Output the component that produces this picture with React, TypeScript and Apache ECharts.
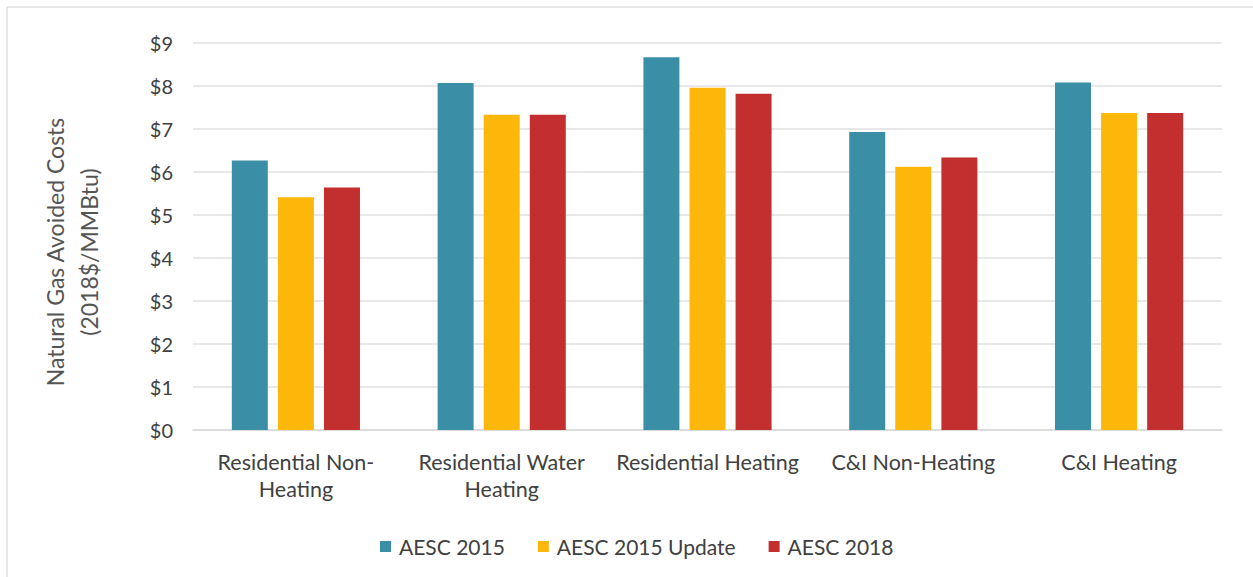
import React, { useEffect, useRef } from "react";
import * as echarts from "echarts";

const categories = [
  "Residential Non-\nHeating",
  "Residential Water\nHeating",
  "Residential Heating",
  "C&I Non-Heating",
  "C&I Heating",
];
const seriesNames = ["AESC 2015", "AESC 2015 Update", "AESC 2018"];
const aesc2015 = [6.27, 8.07, 8.67, 6.93, 8.08];
const aesc2015Update = [5.41, 7.33, 7.96, 6.12, 7.37];
const aesc2018 = [5.64, 7.33, 7.82, 6.34, 7.37];
const colors = ["#3A8FA6", "#FDB60A", "#C32E2F"];
const yTicks = [0, 1, 2, 3, 4, 5, 6, 7, 8, 9];

const FONT = "Lato, 'Open Sans', sans-serif";
const TEXT = "#404040";

export default function App() {
  const ref = useRef<HTMLDivElement>(null);
  useEffect(() => {
    if (!ref.current) return;
    const chart = echarts.init(ref.current, undefined, { renderer: "svg" });
    const data = [aesc2015, aesc2015Update, aesc2018];
    chart.setOption({
      animation: false,
      backgroundColor: "#ffffff",
      textStyle: { fontFamily: FONT, color: TEXT },
      graphic: [
        {
          type: "rect",
          shape: { x: 7, y: 7, width: 1300, height: 620 },
          style: { fill: "none", stroke: "#d0d0d0", lineWidth: 1 },
          silent: true,
        },
        {
          type: "text",
          x: 72,
          y: 252,
          rotation: Math.PI / 2,
          style: {
            text: "Natural Gas Avoided Costs\n(2018$/MMBtu)",
            fontFamily: FONT,
            fontSize: 23,
            fill: "#555555",
            align: "center",
            verticalAlign: "middle",
            lineHeight: 34,
          },
        },
      ],
      grid: { left: 193, right: 31, top: 43, bottom: 147, containLabel: false },
      legend: {
        left: 375,
        top: 531,
        itemWidth: 11,
        itemHeight: 11,
        itemGap: 33,
        icon: "rect",
        textStyle: {
          fontFamily: FONT,
          fontSize: 21,
          color: TEXT,
          padding: [0, 0, 0, 3],
        },
        data: seriesNames,
      },
      xAxis: {
        type: "category",
        data: categories,
        axisLine: { show: true, lineStyle: { color: "#d9d9d9", width: 1.5 } },
        axisTick: { show: false },
        axisLabel: {
          fontFamily: FONT,
          fontSize: 21.5,
          color: TEXT,
          margin: 18,
          lineHeight: 27,
          interval: 0,
        },
      },
      yAxis: {
        type: "value",
        min: yTicks[0],
        max: yTicks[yTicks.length - 1],
        interval: 1,
        axisLine: { show: false },
        axisTick: { show: false },
        splitLine: { lineStyle: { color: "#e0e0e0", width: 1.5 } },
        axisLabel: {
          fontFamily: FONT,
          fontSize: 20,
          color: TEXT,
          margin: 20,
          formatter: (v: number) => "$" + v,
        },
      },
      series: seriesNames.map((name, i) => ({
        name,
        type: "bar",
        data: data[i],
        barWidth: 36,
        barGap: "28%",
        itemStyle: { color: colors[i] },
      })),
    });
    return () => chart.dispose();
  }, []);
  return (
    <div
      ref={ref}
      style={{ position: "fixed", left: 0, top: 0, width: 1253, height: 577 }}
    />
  );
}
